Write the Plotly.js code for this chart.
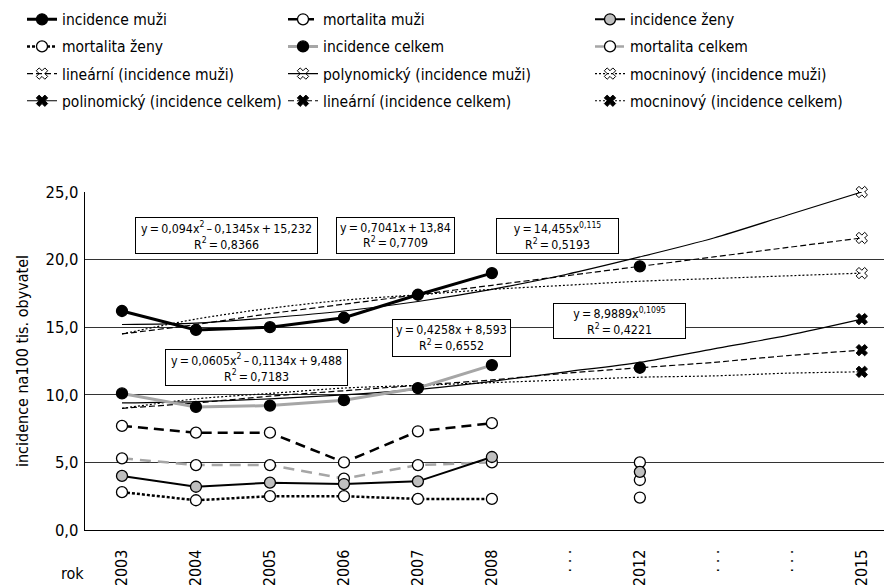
<!DOCTYPE html>
<html>
<head>
<meta charset="utf-8">
<script src="https://cdn.plot.ly/plotly-3.0.1.min.js"></script>
<style>html,body{margin:0;padding:0;background:#fff;}#chart{width:884px;height:585px;}</style>
</head>
<body>
<div id="chart"></div>
<script>
// ---- data ----
const categories = ['2003','2004','2005','2006','2007','2008','. . .','2012','. . .','. . .','2015'];
const incidenceMuzi    = [16.2, 14.8, 15.0, 15.7, 17.4, 19.0, null, 19.5, null, null, null];
const mortalitaMuzi    = [7.7, 7.2, 7.2, 5.0, 7.3, 7.9, null, 5.0, null, null, null];
const incidenceZeny    = [4.0, 3.2, 3.5, 3.4, 3.6, 5.4, null, 4.3, null, null, null];
const mortalitaZeny    = [2.8, 2.2, 2.5, 2.5, 2.3, 2.3, null, 2.4, null, null, null];
const incidenceCelkem  = [10.1, 9.1, 9.2, 9.6, 10.5, 12.2, null, 12.0, null, null, null];
const mortalitaCelkem  = [5.3, 4.8, 4.8, 3.8, 4.8, 5.0, null, 3.7, null, null, null];
// trend lines read at each category position
const linMuzi   = [14.5, 15.2, 16.0, 16.7, 17.4, 18.1, 18.8, 19.5, 20.2, 20.9, 21.6];
const polyMuzi  = [15.2, 15.3, 15.7, 16.2, 16.9, 17.8, 18.9, 20.2, 21.6, 23.3, 25.0];
const powMuzi   = [14.5, 15.6, 16.4, 17.0, 17.4, 17.8, 18.1, 18.4, 18.6, 18.8, 19.0];
const polyCelk  = [9.4, 9.5, 9.7, 10.0, 10.4, 11.0, 11.7, 12.4, 13.4, 14.4, 15.6];
const linCelk   = [9.0, 9.4, 9.9, 10.3, 10.7, 11.1, 11.6, 12.0, 12.4, 12.9, 13.3];
const powCelk   = [9.0, 9.7, 10.1, 10.5, 10.7, 10.9, 11.1, 11.3, 11.4, 11.6, 11.7];
const S = '\u2009'; // thin space
const equations = [
  `y${S}=${S}0,094x<sup>2</sup>${S}–${S}0,1345x${S}+${S}15,232<br>R<sup>2</sup>${S}=${S}0,8366`,
  `y${S}=${S}0,7041x${S}+${S}13,84<br>R<sup>2</sup>${S}=${S}0,7709`,
  `y${S}=${S}14,455x<sup>0,115</sup><br>R<sup>2</sup>${S}=${S}0,5193`,
  `y${S}=${S}8,9889x<sup>0,1095</sup><br>R<sup>2</sup>${S}=${S}0,4221`,
  `y${S}=${S}0,4258x${S}+${S}8,593<br>R<sup>2</sup>${S}=${S}0,6552`,
  `y${S}=${S}0,0605x<sup>2</sup>${S}–${S}0,1134x${S}+${S}9,488<br>R<sup>2</sup>${S}=${S}0,7183`
];

const FONT = '"DejaVu Sans Condensed", "DejaVu Sans", sans-serif';
const xIdx = categories.map((c, i) => i);
const last = [categories.length - 1];

function dataTrace(name, y, lineColor, lineW, dash, mFill, legend, rank) {
  return {
    type: 'scatter', mode: 'lines+markers', name: name, x: xIdx, y: y,
    connectgaps: false, cliponaxis: false, legend: legend, legendrank: rank, legendgroup: name,
    line: {color: lineColor, width: lineW, dash: dash},
    marker: {symbol: 'circle', size: 11, color: mFill, line: {color: '#000', width: 1.3}}
  };
}
function trendTrace(name, y, dash, sym, legend, rank) {
  return {
    type: 'scatter', mode: 'lines+markers', name: name, x: xIdx, y: y,
    line: {color: '#000', width: 1.2, dash: dash, shape: 'spline', smoothing: 0.8},
    cliponaxis: false, legend: legend, legendrank: rank, legendgroup: name,
    marker: {symbol: sym, size: 10, color: '#000', line: {color: '#000', width: 1}},
    selectedpoints: last,
    selected: {marker: {opacity: 1}},
    unselected: {marker: {opacity: 0}}
  };
}

const traces = [
  trendTrace('lineární (incidence muži)', linMuzi, '6px,3px', 'x-open', 'legend', 3),
  trendTrace('polynomický (incidence muži)', polyMuzi, 'solid', 'x-open', 'legend2', 3),
  trendTrace('mocninový (incidence muži)', powMuzi, '2px,2px', 'x-open', 'legend3', 3),
  trendTrace('polinomický (incidence celkem)', polyCelk, 'solid', 'x', 'legend', 4),
  trendTrace('lineární (incidence celkem)', linCelk, '6px,3px', 'x', 'legend2', 4),
  trendTrace('mocninový (incidence celkem)', powCelk, '2px,2px', 'x', 'legend3', 4),
  dataTrace('incidence celkem', incidenceCelkem, '#a6a6a6', 3, 'solid', '#000', 'legend2', 2),
  dataTrace('mortalita celkem', mortalitaCelkem, '#a6a6a6', 2.5, '11px,7px', '#fff', 'legend3', 2),
  dataTrace('incidence muži', incidenceMuzi, '#000', 3, 'solid', '#000', 'legend', 1),
  dataTrace('mortalita muži', mortalitaMuzi, '#000', 2.5, '10px,6px', '#fff', 'legend2', 1),
  dataTrace('mortalita ženy', mortalitaZeny, '#000', 2.5, '3px,2px', '#fff', 'legend', 2),
  dataTrace('incidence ženy', incidenceZeny, '#000', 2, 'solid', '#bfbfbf', 'legend3', 1)
];

const PL = 85, PW = 799;
function px2paper(p) { return (p - PL) / PW; }
const legendBase = {orientation: 'v', xanchor: 'left', yanchor: 'top', y: 1.56,
  bgcolor: 'rgba(0,0,0,0)', borderwidth: 0, font: {family: FONT, size: 15.5, color: '#000'},
  traceorder: 'grouped', tracegroupgap: 4, itemwidth: 30};

const boxes = [
  {x: 1.41, y: 21.8, w: 179, h: 33},
  {x: 3.70, y: 21.8, w: 115, h: 33},
  {x: 5.89, y: 21.75, w: 119, h: 32},
  {x: 6.73, y: 15.47, w: 129, h: 32},
  {x: 4.46, y: 14.22, w: 115, h: 34},
  {x: 1.82, y: 12.0, w: 179, h: 33}
];
const annotations = equations.map((t, i) => ({
  text: t, x: boxes[i].x, y: boxes[i].y, xref: 'x', yref: 'y', showarrow: false,
  width: boxes[i].w, height: boxes[i].h, align: 'center', valign: 'middle',
  bgcolor: '#fff', bordercolor: '#000', borderwidth: 1, borderpad: 1,
  font: {family: FONT, size: 12.3, color: '#000'}
}));
annotations.push({text: 'rok', xref: 'paper', yref: 'paper', x: px2paper(72), y: -(574 - 530.5) / 338.5,
  xanchor: 'center', yanchor: 'middle', showarrow: false, font: {family: FONT, size: 16, color: '#000'}});

const layout = {
  width: 884, height: 585,
  margin: {l: PL, r: 0, t: 192, b: 54.5, autoexpand: false},
  paper_bgcolor: '#fff', plot_bgcolor: '#fff',
  separators: ', ',
  font: {family: FONT, color: '#000'},
  showlegend: true,
  legend: Object.assign({}, legendBase, {x: px2paper(22)}),
  legend2: Object.assign({}, legendBase, {x: px2paper(283)}),
  legend3: Object.assign({}, legendBase, {x: px2paper(590)}),
  xaxis: {
    range: [-0.5, 10.3], tickvals: xIdx, ticktext: categories, tickangle: -90,
    showgrid: false, zeroline: false, showline: true, linecolor: '#000', linewidth: 1.2,
    ticks: '', ticklabelstandoff: 12, tickfont: {family: FONT, size: 16, color: '#000'}
  },
  yaxis: {
    range: [0, 25], dtick: 5, tickformat: '.1f', showgrid: true, gridcolor: '#333', gridwidth: 1,
    zeroline: false, showline: true, linecolor: '#000', linewidth: 1.2, ticks: '',
    ticklabelstandoff: 2, tickfont: {family: FONT, size: 16.5, color: '#000'},
    title: {text: 'incidence na100 tis. obyvatel', font: {family: FONT, size: 16, color: '#000'}, standoff: 12}
  },
  annotations: annotations
};

Plotly.newPlot('chart', traces, layout, {staticPlot: true, displayModeBar: false});
</script>
</body>
</html>
